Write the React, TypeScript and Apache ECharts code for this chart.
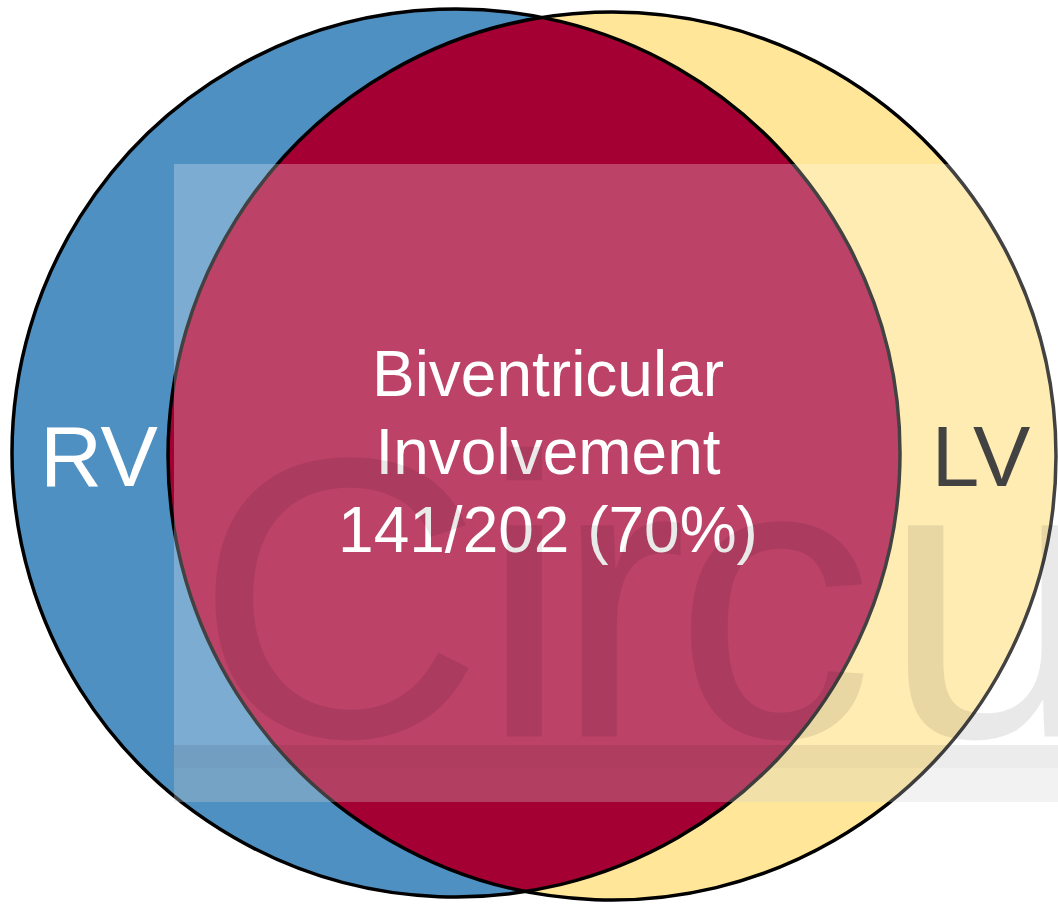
import React, { useEffect, useRef } from "react";
import * as echarts from "echarts";

// ---- data ----
const setNames = ["RV", "LV"];
const overlapTitle = ["Biventricular", "Involvement"];
const bothCount = 141;
const totalCount = 202;
const watermarkLetters = ["C", "i", "r", "c", "u"];

// ---- layout (axis units = pixels) ----
const W = 1058;
const H = 905;
const CENTERS: number[][] = [
  [456, 453],
  [612, 456],
];
const RADIUS = 444;
const SET_COLORS = ["#4F90C2", "#FFE699"];
const OVERLAP_COLOR = "#A50034";
const SET_LABEL_COLORS = ["#FFFFFF", "#000000"];
const SET_LABEL_POS: number[][] = [
  [99, 456],
  [981, 456],
];
const OVERLAP_LABEL_X = 548;
const OVERLAP_LABEL_Y = [374, 452, 530];
const LETTER_X = [195, 480, 554, 674, 882];

const FONT = "'Liberation Sans', Arial, Helvetica, sans-serif";

function intersections(c1: number[], c2: number[], r: number) {
  const dx = c2[0] - c1[0];
  const dy = c2[1] - c1[1];
  const d = Math.sqrt(dx * dx + dy * dy);
  const mx = (c1[0] + c2[0]) / 2;
  const my = (c1[1] + c2[1]) / 2;
  const h = Math.sqrt(r * r - (d / 2) * (d / 2));
  const ux = -dy / d;
  const uy = dx / d;
  const p1 = [mx + ux * h, my + uy * h];
  const p2 = [mx - ux * h, my - uy * h];
  return p1[1] < p2[1] ? [p1, p2] : [p2, p1];
}

export default function App() {
  const ref = useRef<HTMLDivElement>(null);

  useEffect(() => {
    if (!ref.current) return;
    const chart = echarts.init(ref.current, null, { renderer: "svg" });
    const pct = Math.round((bothCount / totalCount) * 100);
    const overlapLines = [...overlapTitle, `${bothCount}/${totalCount} (${pct}%)`];

    const renderItem = (params: any, api: any) => {
      const c = CENTERS.map((p) => api.coord(p));
      const r = api.size([RADIUS, 0])[0];
      const [top, bot] = intersections(c[0], c[1], r);
      const lens = `M ${top[0]} ${top[1]} A ${r} ${r} 0 0 0 ${bot[0]} ${bot[1]} A ${r} ${r} 0 0 0 ${top[0]} ${top[1]} Z`;
      const children: any[] = [];
      c.forEach((p, i) => {
        children.push({
          type: "circle",
          shape: { cx: p[0], cy: p[1], r },
          style: { fill: SET_COLORS[i], stroke: "none" },
        });
      });
      children.push({
        type: "path",
        shape: { pathData: lens },
        style: { fill: OVERLAP_COLOR, stroke: "none" },
      });
      c.forEach((p) => {
        children.push({
          type: "circle",
          shape: { cx: p[0], cy: p[1], r },
          style: { fill: "none", stroke: "#000000", lineWidth: 3.5 },
        });
      });
      setNames.forEach((name, i) => {
        const pos = api.coord(SET_LABEL_POS[i]);
        children.push({
          type: "text",
          style: {
            text: name,
            x: pos[0],
            y: pos[1],
            fill: SET_LABEL_COLORS[i],
            font: `86px ${FONT}`,
            align: "center",
            verticalAlign: "middle",
          },
        });
      });
      overlapLines.forEach((line, i) => {
        const pos = api.coord([OVERLAP_LABEL_X, OVERLAP_LABEL_Y[i]]);
        children.push({
          type: "text",
          style: {
            text: line,
            x: pos[0],
            y: pos[1],
            fill: "#FFFFFF",
            font: `64px ${FONT}`,
            align: "center",
            verticalAlign: "middle",
          },
        });
      });
      return { type: "group", children };
    };

    const graphic: any[] = [
      {
        type: "rect",
        shape: { x: 174, y: 164, width: W - 174, height: 638 },
        style: { fill: "rgba(255,255,255,0.26)" },
        z: 100,
        silent: true,
      },
      {
        type: "rect",
        shape: { x: 174, y: 745, width: W - 174, height: 23 },
        style: { fill: "rgba(0,0,0,0.075)" },
        z: 101,
        silent: true,
      },
      {
        type: "rect",
        shape: { x: 174, y: 768, width: W - 174, height: 34 },
        style: { fill: "rgba(0,0,0,0.05)" },
        z: 101,
        silent: true,
      },
      ...watermarkLetters.map((ch, i) => ({
        type: "text",
        x: LETTER_X[i],
        y: 598,
        z: 102,
        silent: true,
        style: {
          text: ch,
          fill: "rgba(0,0,0,0.085)",
          font: `400px ${FONT}`,
          align: "left",
          verticalAlign: "middle",
        },
      })),
    ];

    chart.setOption({
      animation: false,
      grid: { left: 0, right: 0, top: 0, bottom: 0 },
      xAxis: { type: "value", min: 0, max: W, show: false },
      yAxis: { type: "value", min: 0, max: H, inverse: true, show: false },
      graphic,
      series: [
        {
          type: "custom",
          renderItem,
          data: [[0, 0]],
          silent: true,
        },
      ],
    });
    return () => chart.dispose();
  }, []);

  return (
    <div
      ref={ref}
      style={{ position: "absolute", left: 0, top: 0, width: W, height: H }}
    />
  );
}
